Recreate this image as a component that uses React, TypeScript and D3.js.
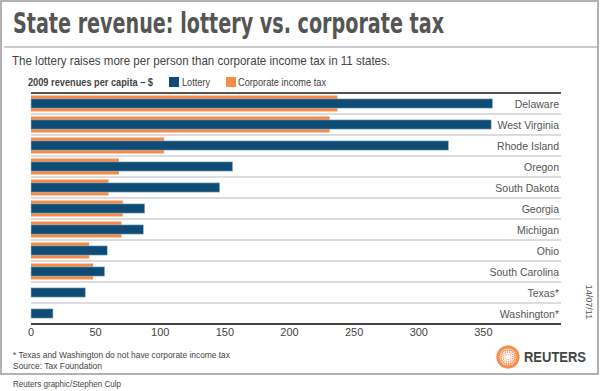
import React from 'react';
import * as d3 from 'd3';

const states = [
  'Delaware', 'West Virginia', 'Rhode Island', 'Oregon', 'South Dakota', 'Georgia',
  'Michigan', 'Ohio', 'South Carolina', 'Texas*', 'Washington*',
];
const lottery = [357, 356, 323, 156, 146, 88, 87, 59, 57, 42, 17];
const corporate: (number | null)[] = [237, 231, 103, 68, 60, 71, 70, 45, 48, null, null];
const ticks = [0, 50, 100, 150, 200, 250, 300, 350];

const BLUE = '#0e4c75';
const ORANGE = '#f68b4a';
const FONT = '"Liberation Sans", Arial, sans-serif';

const W = 600, H = 391;

const ReutersLogo: React.FC<{ cx: number; cy: number }> = ({ cx, cy }) => {
  const dots: { x: number; y: number; r: number }[] = [];
  const rings = [3, 5, 7, 9, 10.5];
  rings.forEach((rad, k) => {
    const n = Math.round(rad * 3.2);
    for (let i = 0; i < n; i++) {
      const a = (i / n) * Math.PI * 2 + k * 0.3;
      dots.push({ x: cx + rad * Math.cos(a), y: cy + rad * Math.sin(a), r: 0.5 + k * 0.18 });
    }
  });
  return (
    <g>
      {dots.map((d, i) => <circle key={i} cx={d.x} cy={d.y} r={d.r} fill={ORANGE} />)}
    </g>
  );
};

const App: React.FC = () => {
  const x = d3.scaleLinear().domain([0, 410]).range([31, 561]);
  const y = d3.scaleBand<string>().domain(states).range([93, 324]).padding(0);
  const bw = y.bandwidth();
  const orangeH = bw * 0.76;
  const blueH = bw * 0.44;

  return (
    <svg width={W} height={H} style={{ position: 'absolute', left: 0, top: 0, background: '#fff' }}
      fontFamily={FONT}>
      <rect x={1} y={1} width={597} height={373} fill="#fff" stroke="#999" strokeWidth={1.5} />

      <text x={13} y={33} fontSize={29} fontWeight="bold" fill="#555"
        fontFamily='"DejaVu Sans Condensed", "Liberation Sans", sans-serif'
        textLength={431} lengthAdjust="spacingAndGlyphs">
        State revenue: lottery vs. corporate tax
      </text>
      <line x1={4} x2={598} y1={47} y2={47} stroke="#999" strokeWidth={1.2} />
      <text x={12} y={64.5} fontSize={13} fill="#444" textLength={378} lengthAdjust="spacingAndGlyphs">
        The lottery raises more per person than corporate income tax in 11 states.
      </text>

      {/* legend */}
      <text x={28} y={85.5} fontSize={11} fontWeight="bold" fill="#444" textLength={125}
        lengthAdjust="spacingAndGlyphs">2009 revenues per capita – $</text>
      <rect x={169} y={77} width={10} height={10} fill={BLUE} />
      <text x={182} y={85.5} fontSize={11} fill="#444" textLength={28} lengthAdjust="spacingAndGlyphs">Lottery</text>
      <rect x={226} y={77} width={10} height={10} fill={ORANGE} />
      <text x={238} y={85.5} fontSize={11} fill="#444" textLength={88} lengthAdjust="spacingAndGlyphs">Corporate income tax</text>

      {/* row separators */}
      {states.slice(1).map((s) => (
        <line key={s} x1={31} x2={561} y1={y(s)!} y2={y(s)!} stroke="#dcdcdc" strokeWidth={1.8} />
      ))}

      {/* bars */}
      {states.map((s, i) => {
        const c = y(s)! + bw / 2;
        const cv = corporate[i];
        return (
          <g key={s}>
            {cv !== null && (
              <rect x={x(0)} y={c - orangeH / 2} width={x(cv) - x(0)} height={orangeH} fill={ORANGE} />
            )}
            <rect x={x(0)} y={c - blueH / 2} width={x(lottery[i]) - x(0)} height={blueH} fill={BLUE}
              stroke="#a8c0d2" strokeWidth={0.6} />
            <text x={559} y={c + 4} fontSize={10.5} fill="#555" textAnchor="end">{s}</text>
          </g>
        );
      })}

      <line x1={31} x2={561} y1={93} y2={93} stroke="#555" strokeWidth={2} />
      <line x1={31} x2={561} y1={324} y2={324} stroke="#444" strokeWidth={2} />

      {ticks.map((t) => (
        <text key={t} x={x(t)} y={336} fontSize={11} fill="#444" textAnchor="middle">{t}</text>
      ))}

      <text transform="translate(586,302) rotate(90)" fontSize={9} fill="#555" textAnchor="middle">14/07/11</text>

      <text x={13} y={358} fontSize={9} fill="#444" textLength={217} lengthAdjust="spacingAndGlyphs">
        * Texas and Washington do not have corporate income tax
      </text>
      <text x={13} y={369} fontSize={9} fill="#444" textLength={89} lengthAdjust="spacingAndGlyphs">
        Source: Tax Foundation
      </text>

      <ReutersLogo cx={508} cy={357} />
      <text x={524} y={362} fontSize={14} fontWeight="bold" fill="#444" textLength={62}
        lengthAdjust="spacingAndGlyphs">REUTERS</text>

      <text x={13} y={387} fontSize={9} fill="#444" textLength={108} lengthAdjust="spacingAndGlyphs">
        Reuters graphic/Stephen Culp
      </text>
    </svg>
  );
};

export default App;
